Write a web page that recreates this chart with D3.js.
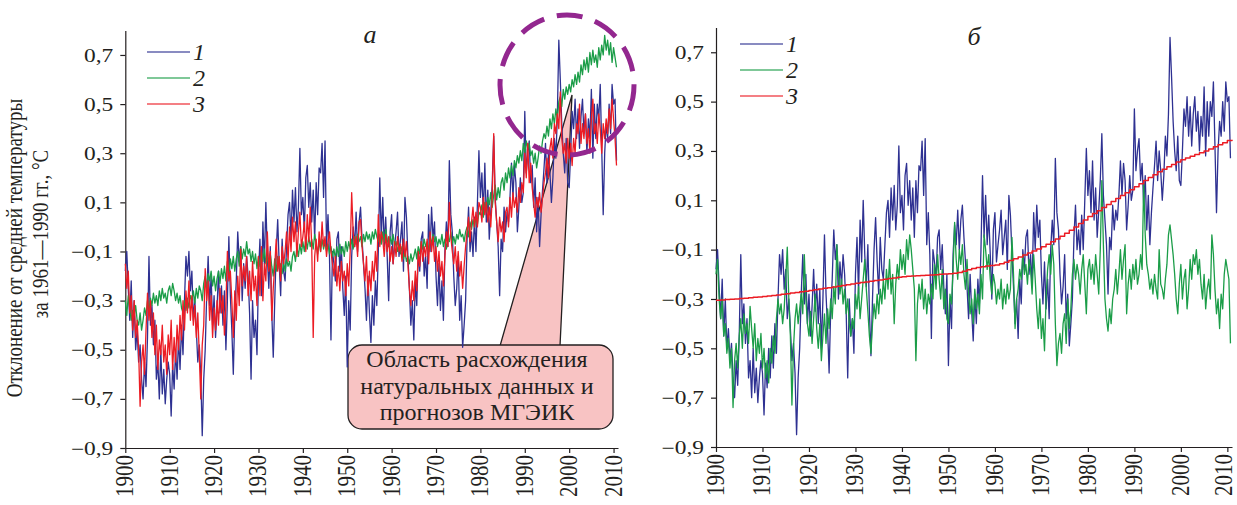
<!DOCTYPE html>
<html>
<head>
<meta charset="utf-8">
<script src="https://cdn.jsdelivr.net/npm/d3@7"></script>
<style>
  body { margin: 0; background: #fff; }
  svg text { font-family: "Liberation Serif", "Times New Roman", serif; fill: #231f20; }
</style>
</head>
<body>
<svg id="chart" width="1237" height="505"></svg>
<script>
// ---- data (three samples per year, 1900.0, 1900.33, ...) ----
const startYear = 1900;
const samplesPerYear = 3;

// 1 - observed anomaly (same curve in both panels)
const observed = [
  -0.18,-0.10,-0.25, -0.38,-0.22,-0.45, -0.30,-0.50,-0.42, -0.55,-0.48,-0.62, -0.70,-0.55,-0.65,
  -0.45,-0.12,-0.40, -0.32,-0.48,-0.38, -0.62,-0.55,-0.70, -0.50,-0.68,-0.58, -0.72,-0.62,-0.55,
  -0.60,-0.77,-0.56, -0.66,-0.50,-0.62, -0.45,-0.58,-0.40, -0.52,-0.30,-0.12, -0.20,-0.10,-0.26,
  -0.18,-0.38,-0.30, -0.42,-0.55,-0.48, -0.60,-0.85,-0.62, -0.50,-0.28,-0.12, -0.32,-0.20,-0.40,
  -0.28,-0.45,-0.33, -0.18,-0.35,-0.24, -0.40,-0.26,-0.50, -0.30,-0.04,-0.28, -0.42,-0.60,-0.35,
  -0.22,-0.02,-0.14, -0.08,-0.30,-0.15, -0.25,-0.12,-0.20, -0.35,-0.62,-0.30, -0.45,-0.38,-0.52,
  -0.20,-0.05,-0.28, 0.02,-0.15,0.10, -0.12,-0.25,-0.08, -0.35,-0.53,-0.30, -0.10,0.03,-0.15,
  -0.28,-0.05,-0.18, -0.22,-0.08,0.05, 0.10,-0.05,0.15, 0.02,0.16,-0.02, 0.08,0.32,0.05,
  0.12,-0.02,0.20, 0.25,0.08,0.18, 0.02,0.15,-0.05, 0.18,0.05,0.24, 0.22,0.34,0.12,
  0.35,-0.08,0.05, -0.12,-0.46,-0.10, -0.15,-0.22,-0.05, -0.02,-0.18,-0.08, -0.25,-0.36,-0.20,
  -0.57,-0.30,-0.42, -0.12,0.00,-0.08, 0.06,-0.10,0.02, 0.08,-0.05,-0.15, -0.25,-0.38,-0.20,
  -0.35,-0.47,-0.28, -0.40,-0.22,-0.32, -0.10,0.20,-0.05, 0.12,-0.08,0.04, -0.12,-0.30,-0.02,
  0.05,-0.15,-0.08, -0.02,0.06,-0.12, -0.05,0.02,-0.18, 0.12,0.04,-0.12, -0.25,-0.40,-0.30,
  -0.46,-0.22,-0.32, -0.10,-0.18,-0.05, -0.02,-0.20,-0.12, -0.25,0.05,-0.10, 0.08,-0.05,0.02,
  -0.20,-0.32,-0.15, -0.34,-0.22,-0.38, -0.10,0.02,-0.08, 0.27,0.05,-0.02, -0.20,-0.32,-0.25,
  -0.12,-0.38,-0.28, -0.49,-0.40,-0.30, -0.05,0.08,-0.10, -0.02,-0.12,0.04, -0.10,0.10,0.31,
  0.12,0.22,0.05, 0.26,0.02,0.15, -0.05,0.06,0.18, 0.37,0.12,0.02, -0.08,-0.28,-0.05,
  -0.10,0.08,-0.02, 0.06,0.02,0.12, 0.26,0.12,0.25, 0.18,-0.02,0.08, 0.20,0.10,0.14,
  0.47,0.22,0.30, 0.35,0.18,0.25, 0.08,0.20,-0.02, 0.12,-0.08,0.05, 0.15,0.24,0.34,
  0.18,0.30,0.22, 0.10,0.20,0.36, 0.28,0.45,0.76, 0.60,0.42,0.30, 0.22,0.36,0.18,
  0.16,0.30,0.47, 0.40,0.52,0.36, 0.48,0.32,0.45, 0.52,0.38,0.46, 0.30,0.44,0.36,
  0.56,0.28,0.50, 0.36,0.50,0.44, 0.58,0.32,0.05, 0.30,0.42,0.36, 0.50,0.38,0.58,
  0.50,0.52,0.27
];

// panel a, curve 2
const modelA2 = [
  -0.30,-0.36,-0.28, -0.33,-0.38,-0.34, -0.36,-0.32,-0.38, -0.40,-0.35,-0.42, -0.38,-0.33,-0.36,
  -0.30,-0.34,-0.29, -0.32,-0.27,-0.31, -0.28,-0.32,-0.26, -0.30,-0.25,-0.29, -0.27,-0.31,-0.26,
  -0.24,-0.28,-0.23, -0.26,-0.30,-0.27, -0.31,-0.28,-0.33, -0.35,-0.30,-0.34, -0.29,-0.33,-0.28,
  -0.30,-0.26,-0.31, -0.25,-0.29,-0.24, -0.26,-0.30,-0.23, -0.20,-0.25,-0.19, -0.22,-0.18,-0.24,
  -0.20,-0.26,-0.21, -0.18,-0.23,-0.17, -0.21,-0.16,-0.22, -0.14,-0.19,-0.13, -0.17,-0.12,-0.18,
  -0.13,-0.10,-0.16, -0.08,-0.13,-0.09, -0.12,-0.06,-0.11, -0.09,-0.14,-0.10, -0.15,-0.11,-0.17,
  -0.12,-0.16,-0.10, -0.14,-0.09,-0.15, -0.12,-0.17,-0.11, -0.16,-0.20,-0.13, -0.18,-0.12,-0.17,
  -0.15,-0.19,-0.14, -0.18,-0.13,-0.16, -0.14,-0.18,-0.12, -0.10,-0.14,-0.08, -0.12,-0.07,-0.11,
  -0.06,-0.10,-0.05, -0.09,-0.04,-0.08, -0.05,-0.09,-0.03, -0.07,-0.11,-0.06, -0.10,-0.05,-0.09,
  -0.06,-0.10,-0.07, -0.11,-0.08,-0.12, -0.09,-0.13,-0.08, -0.12,-0.07,-0.11, -0.08,-0.12,-0.06,
  -0.10,-0.06,-0.09, -0.05,-0.09,-0.04, -0.07,-0.03,-0.06, -0.04,-0.08,-0.03, -0.06,-0.02,-0.05,
  -0.03,-0.07,-0.02, -0.05,-0.01,-0.04, -0.06,-0.03,-0.07, -0.02,-0.06,-0.01, -0.05,-0.08,-0.04,
  -0.07,-0.03,-0.08, -0.06,-0.10,-0.07, -0.11,-0.08,-0.13, -0.10,-0.14,-0.12, -0.15,-0.11,-0.14,
  -0.12,-0.09,-0.13, -0.08,-0.11,-0.06, -0.09,-0.05,-0.08, -0.06,-0.10,-0.04, -0.07,-0.03,-0.06,
  -0.04,-0.08,-0.05, -0.07,-0.03,-0.08, -0.05,-0.09,-0.04, -0.06,-0.02,-0.07, -0.04,-0.07,-0.03,
  -0.05,-0.01,-0.04, -0.03,-0.06,-0.02, 0.00,-0.04,0.02, -0.01,0.03,0.00, 0.04,0.01,0.06,
  0.05,0.09,0.04, 0.10,0.06,0.12, 0.09,0.14,0.08, 0.13,0.17,0.11, 0.16,0.12,0.18,
  0.20,0.15,0.22, 0.18,0.24,0.20, 0.25,0.21,0.27, 0.24,0.29,0.26, 0.31,0.27,0.34,
  0.30,0.35,0.32, 0.34,0.29,0.31, 0.26,0.30,0.24, 0.28,0.33,0.30, 0.35,0.38,0.36,
  0.41,0.37,0.44, 0.40,0.46,0.42, 0.48,0.44,0.51, 0.53,0.49,0.56, 0.52,0.57,0.54,
  0.58,0.55,0.60, 0.57,0.62,0.58, 0.63,0.59,0.66, 0.62,0.68,0.64, 0.69,0.63,0.71,
  0.66,0.72,0.67, 0.70,0.65,0.73, 0.68,0.74,0.70, 0.78,0.72,0.76, 0.70,0.75,0.67,
  0.73,0.69,0.65
];

// panel a, curve 3
const modelA3 = [
  -0.15,-0.25,-0.18, -0.35,-0.28,-0.42, -0.30,-0.45,-0.38, -0.50,-0.73,-0.55, -0.48,-0.60,-0.42,
  -0.27,-0.38,-0.30, -0.45,-0.35,-0.52, -0.40,-0.58,-0.46, -0.52,-0.40,-0.55, -0.48,-0.60,-0.44,
  -0.52,-0.38,-0.58, -0.45,-0.55,-0.40, -0.50,-0.36,-0.46, -0.30,-0.42,-0.26, -0.35,-0.22,-0.38,
  -0.28,-0.40,-0.32, -0.45,-0.35,-0.52, -0.70,-0.48,-0.40, -0.17,-0.30,-0.22, -0.38,-0.28,-0.45,
  -0.33,-0.42,-0.30, -0.40,-0.25,-0.35, -0.28,-0.44,-0.32, -0.10,-0.22,-0.18, -0.30,-0.45,-0.26,
  -0.38,-0.20,-0.32, -0.09,-0.24,-0.16, -0.22,-0.12,-0.28, -0.18,-0.30,-0.14, -0.26,-0.20,-0.32,
  -0.12,-0.28,-0.08, -0.30,-0.15,-0.22, -0.02,-0.18,-0.10, -0.38,-0.25,-0.16, -0.05,-0.18,-0.12,
  -0.22,-0.08,-0.15, -0.10,-0.02,-0.14, 0.00,-0.10,0.04, -0.06,0.02,-0.12, -0.02,0.06,-0.08,
  -0.04,0.02,-0.10, 0.05,-0.06,0.08, -0.08,-0.45,-0.12, -0.05,-0.14,-0.02, -0.10,0.02,-0.08,
  -0.04,-0.12,-0.06, -0.02,-0.10,-0.15, -0.20,-0.12,-0.24, -0.16,-0.26,-0.14, -0.22,-0.18,-0.28,
  -0.15,-0.24,-0.10, 0.14,-0.02,-0.08, -0.04,-0.12,0.02, 0.03,-0.08,-0.15, -0.22,-0.12,-0.28,
  -0.18,-0.26,-0.14, -0.22,-0.10,-0.18, 0.05,-0.08,-0.02, -0.05,-0.12,-0.03, -0.10,-0.04,-0.14,
  -0.08,-0.15,-0.06, -0.12,-0.04,-0.10, -0.07,-0.14,-0.05, -0.12,-0.06,-0.15, -0.25,-0.32,-0.22,
  -0.30,-0.18,-0.26, -0.10,-0.16,-0.06, -0.14,-0.08,-0.12, -0.05,-0.15,-0.02, -0.10,-0.04,-0.14,
  -0.08,-0.18,-0.10, -0.20,-0.14,-0.24, -0.12,-0.02,-0.08, 0.10,-0.04,-0.10, -0.15,-0.08,-0.18,
  -0.10,-0.20,-0.14, -0.25,-0.16,-0.08, -0.02,0.04,-0.06, 0.02,0.08,0.00, 0.06,0.00,0.10,
  0.08,0.02,0.12, 0.05,0.10,0.02, 0.08,0.00,0.12, 0.38,0.10,0.02, -0.06,0.04,-0.02,
  0.02,-0.06,0.06, 0.08,0.00,0.12, 0.04,0.14,0.08, 0.12,0.06,0.16, 0.10,0.18,0.14,
  0.30,0.20,0.34, 0.18,0.26,0.16, 0.10,0.04,0.12, 0.08,0.14,0.06, 0.12,0.18,0.22,
  0.28,0.20,0.32, 0.36,0.28,0.42, 0.38,0.46,0.40, 0.55,0.36,0.30, 0.34,0.26,0.36,
  0.28,0.34,0.25, 0.36,0.30,0.42, 0.38,0.50,0.34, 0.42,0.36,0.46, 0.34,0.40,0.30,
  0.44,0.52,0.38, 0.42,0.34,0.46, 0.40,0.30,0.42, 0.36,0.44,0.38, 0.48,0.40,0.52,
  0.44,0.36,0.25
];

// panel b, curve 2
const modelB2 = [
  -0.20,-0.14,-0.30, -0.38,-0.30,-0.45, -0.40,-0.52,-0.46, -0.58,-0.50,-0.74, -0.55,-0.48,-0.58,
  -0.45,-0.38,-0.50, -0.36,-0.44,-0.40, -0.48,-0.33,-0.42, -0.50,-0.40,-0.55, -0.46,-0.52,-0.44,
  -0.58,-0.50,-0.62, -0.55,-0.64,-0.50, -0.56,-0.45,-0.52, -0.38,-0.30,-0.36, -0.32,-0.40,-0.34,
  -0.22,-0.09,-0.30, -0.45,-0.73,-0.50, -0.38,-0.32,-0.40, -0.34,-0.28,-0.36, -0.12,-0.30,-0.40,
  -0.45,-0.35,-0.48, -0.38,-0.28,-0.42, -0.50,-0.40,-0.55, -0.45,-0.36,-0.48, -0.34,-0.42,-0.30,
  -0.38,-0.25,-0.32, -0.08,-0.20,-0.28, -0.22,-0.32,-0.26, -0.36,-0.30,-0.40, -0.45,-0.38,-0.42,
  -0.28,-0.34,-0.25, -0.38,-0.30,-0.22, -0.14,-0.26,-0.35, -0.45,-0.52,-0.40, -0.32,-0.38,-0.28,
  -0.36,-0.26,-0.32, -0.22,-0.30,-0.18, -0.26,-0.14,-0.28, -0.20,-0.40,-0.24, -0.16,-0.22,-0.10,
  -0.18,-0.12,-0.20, -0.06,-0.14,-0.04, -0.10,-0.18,-0.26, -0.55,-0.32,-0.24, -0.30,-0.22,-0.34,
  -0.26,-0.36,-0.28, -0.32,-0.24,-0.30, -0.16,-0.26,-0.12, -0.22,-0.30,-0.18, -0.34,-0.26,-0.38,
  -0.40,-0.28,-0.32, -0.18,0.01,-0.14, -0.22,-0.10,-0.16, -0.08,-0.20,-0.26, -0.14,-0.28,-0.36,
  -0.30,-0.40,-0.26, -0.34,-0.28,-0.36, -0.20,-0.30,-0.04, -0.10,-0.18,-0.12, -0.22,-0.28,-0.20,
  -0.24,-0.32,-0.26, -0.30,-0.22,-0.34, -0.26,-0.32,-0.24, -0.30,-0.26,-0.05, -0.20,-0.42,-0.30,
  -0.26,-0.18,-0.22, -0.12,-0.20,-0.16, -0.24,-0.14,-0.18, -0.28,-0.12,-0.22, -0.34,-0.42,-0.30,
  -0.46,-0.38,-0.51, -0.30,-0.18,-0.12, -0.20,-0.08,-0.16, -0.40,-0.57,-0.48, -0.44,-0.52,-0.40,
  -0.36,-0.48,-0.30, -0.42,-0.34,-0.20, -0.14,-0.22,-0.16, -0.20,-0.28,-0.18, -0.12,-0.24,-0.36,
  -0.18,-0.14,-0.22, -0.16,-0.24,-0.12, -0.20,-0.28,-0.10, 0.18,-0.08,-0.30, -0.38,-0.43,-0.34,
  -0.40,-0.30,-0.26, -0.18,-0.28,-0.20, -0.10,-0.22,-0.14, -0.08,-0.36,-0.24, -0.18,-0.26,-0.16,
  -0.22,-0.14,-0.24, -0.20,-0.12,-0.18, 0.17,-0.04,-0.16, -0.20,-0.26,-0.22, -0.28,-0.20,-0.26,
  -0.30,-0.10,-0.24, -0.26,-0.30,-0.22, -0.16,-0.04,0.00, -0.06,-0.12,-0.20, -0.30,-0.36,-0.24,
  -0.16,-0.30,-0.22, -0.18,-0.34,-0.26, -0.14,-0.22,-0.12, -0.16,-0.10,-0.20, -0.14,-0.24,-0.30,
  -0.20,-0.34,-0.26, -0.22,-0.30,-0.04, -0.12,-0.26,-0.36, -0.30,-0.42,-0.28, -0.34,-0.20,-0.14,
  -0.18,-0.22,-0.48
];

// panel b, curve 3 (smooth trend, one value per year 1900..2011)
const trendB3 = [
  -0.305,-0.304,-0.302,-0.301,-0.300,-0.298,-0.297,-0.295,-0.293,-0.292,
  -0.290,-0.288,-0.286,-0.284,-0.281,-0.279,-0.276,-0.274,-0.271,-0.269,
  -0.266,-0.263,-0.260,-0.257,-0.254,-0.251,-0.248,-0.245,-0.242,-0.239,
  -0.236,-0.233,-0.231,-0.228,-0.225,-0.223,-0.220,-0.217,-0.215,-0.212,
  -0.210,-0.208,-0.207,-0.206,-0.205,-0.204,-0.203,-0.202,-0.200,-0.199,
  -0.198,-0.196,-0.193,-0.188,-0.182,-0.176,-0.172,-0.169,-0.166,-0.164,
  -0.162,-0.157,-0.151,-0.144,-0.137,-0.130,-0.122,-0.114,-0.106,-0.097,
  -0.088,-0.078,-0.068,-0.057,-0.046,-0.034,-0.021,-0.008,0.006,0.020,
  0.034,0.046,0.058,0.071,0.083,0.095,0.107,0.119,0.131,0.143,
  0.155,0.167,0.180,0.192,0.204,0.216,0.226,0.236,0.245,0.255,
  0.264,0.271,0.279,0.286,0.293,0.300,0.308,0.317,0.325,0.333,
  0.342,0.345
];

const yTicks = [-0.9, -0.7, -0.5, -0.3, -0.1, 0.1, 0.3, 0.5, 0.7];
const xTicks = [1900, 1910, 1920, 1930, 1940, 1950, 1960, 1970, 1980, 1990, 2000, 2010];
const legendLabels = ['1', '2', '3'];
const yTitleLines = ['Отклонение от средней температуры', 'за 1961\u20141990 гг., °C'];
const calloutLines = ['Область расхождения', 'натуральных данных и', 'прогнозов МГЭИК'];

// ---- drawing ----
const BLUE = '#2e3192', GREEN = '#1b9d48', RED = '#ec1c24', PURPLE = '#93278f';
const svg = d3.select('#chart');

function toPoints(values, perYear) {
  return values.map((v, i) => ({ t: startYear + i / perYear, v: v }));
}

const panels = [
  {
    left: 125.3, right: 618, top: 30.4, bottom: 448,
    letter: 'а', letterX: 370, letterY: 43,
    legendX: 147, legendY: 52,
    series: [
      { values: observed, perYear: samplesPerYear, color: BLUE },
      { values: modelA2, perYear: samplesPerYear, color: GREEN },
      { values: modelA3, perYear: samplesPerYear, color: RED }
    ]
  },
  {
    left: 716, right: 1232, top: 27.6, bottom: 447,
    letter: 'б', letterX: 974, letterY: 45,
    legendX: 740, legendY: 44,
    series: [
      { values: observed, perYear: samplesPerYear, color: BLUE },
      { values: modelB2, perYear: samplesPerYear, color: GREEN },
      { values: trendB3, perYear: 1, color: RED, step: true }
    ]
  }
];

const fmt = d => d3.format('.1f')(d).replace('.', ',');

panels.forEach((p, pi) => {
  const x = d3.scaleLinear().domain([1900, 2011]).range([p.left, p.right]);
  const y = d3.scaleLinear().domain([-0.9, 0.8]).range([p.bottom, p.top]);
  const g = svg.append('g');

  // callout under the curves (panel a only)
  if (pi === 0) {
    g.append('path')
      .attr('d', 'M500,346 L572,95 L560,346 Z')
      .attr('fill', '#f8c3c3')
      .attr('stroke', '#231f20')
      .attr('stroke-width', 1.3);
    g.append('rect')
      .attr('x', 348).attr('y', 345).attr('width', 265).attr('height', 84)
      .attr('rx', 14)
      .attr('fill', '#f8c3c3')
      .attr('stroke', '#231f20')
      .attr('stroke-width', 1.3);
  }

  // axes
  const yAxis = g.append('g')
    .attr('transform', 'translate(' + p.left + ',0)')
    .call(d3.axisLeft(y).tickValues(yTicks).tickSize(5).tickSizeOuter(0).tickFormat(fmt));
  yAxis.selectAll('text')
    .attr('x', null).attr('dy', null)
    .attr('transform', 'translate(-12,0) scale(1.3,1)')
    .attr('dominant-baseline', 'central')
    .style('font-size', '18px');

  const xAxis = g.append('g')
    .attr('transform', 'translate(0,' + p.bottom + ')')
    .call(d3.axisBottom(x).tickValues(xTicks).tickSize(5).tickSizeOuter(0).tickFormat(d3.format('d')));
  // the last label of the right panel sits against the page edge, nudge it in
  xAxis.selectAll('text')
    .attr('y', null).attr('dy', null)
    .attr('text-anchor', 'end')
    .attr('dominant-baseline', 'central')
    .attr('transform', d => 'translate(' + (pi === 1 && d === 2010 ? -4 : -0.5) + ',7) rotate(-90) scale(1,1.15)')
    .style('font-size', '21px');

  [yAxis, xAxis].forEach(a => {
    a.attr('font-family', null).attr('font-size', null);
    a.select('.domain').attr('stroke', '#231f20').attr('stroke-width', 1.2);
    a.selectAll('.tick line').attr('stroke', '#231f20').attr('stroke-width', 1.2);
  });

  // curves
  p.series.forEach(s => {
    const line = d3.line()
      .x(d => x(d.t))
      .y(d => y(d.v))
      .curve(s.step ? d3.curveStepAfter : d3.curveLinear);
    g.append('path')
      .datum(toPoints(s.values, s.perYear))
      .attr('fill', 'none')
      .attr('stroke', s.color)
      .attr('stroke-width', s.step ? 1.5 : 1.3)
      .attr('stroke-linejoin', 'round')
      .attr('d', line);
  });

  // legend
  p.series.forEach((s, i) => {
    const ly = p.legendY + i * 26;
    g.append('line')
      .attr('x1', p.legendX).attr('x2', p.legendX + 43)
      .attr('y1', ly).attr('y2', ly)
      .attr('stroke', s.color)
      .attr('stroke-opacity', 0.75)
      .attr('stroke-width', 1.5);
    g.append('text')
      .attr('x', p.legendX + 46).attr('y', ly + 8)
      .style('font-size', '24px').style('font-style', 'italic')
      .text(legendLabels[i]);
  });

  // panel letter
  g.append('text')
    .attr('x', p.letterX).attr('y', p.letterY)
    .attr('text-anchor', 'middle')
    .style('font-size', '26px').style('font-style', 'italic')
    .text(p.letter);
});

// y axis title
yTitleLines.forEach((t, i) => {
  const cx = i === 0 ? 22 : 48;
  const cy = i === 0 ? 248 : 234;
  svg.append('text')
    .attr('transform', 'translate(' + cx + ',' + cy + ') rotate(-90) scale(1,1.2)')
    .attr('text-anchor', 'middle')
    .style('font-size', '19px')
    .text(t);
});

// callout text
calloutLines.forEach((t, i) => {
  svg.append('text')
    .attr('x', 477).attr('y', 367 + i * 26.7)
    .attr('text-anchor', 'middle')
    .style('font-size', '24px')
    .text(t);
});

// dashed ellipse around the divergence region
svg.append('ellipse')
  .attr('cx', 567).attr('cy', 85).attr('rx', 67).attr('ry', 70)
  .attr('fill', 'none')
  .attr('stroke', PURPLE)
  .attr('stroke-width', 5)
  .attr('stroke-dasharray', '26,13');
</script>
</body>
</html>
